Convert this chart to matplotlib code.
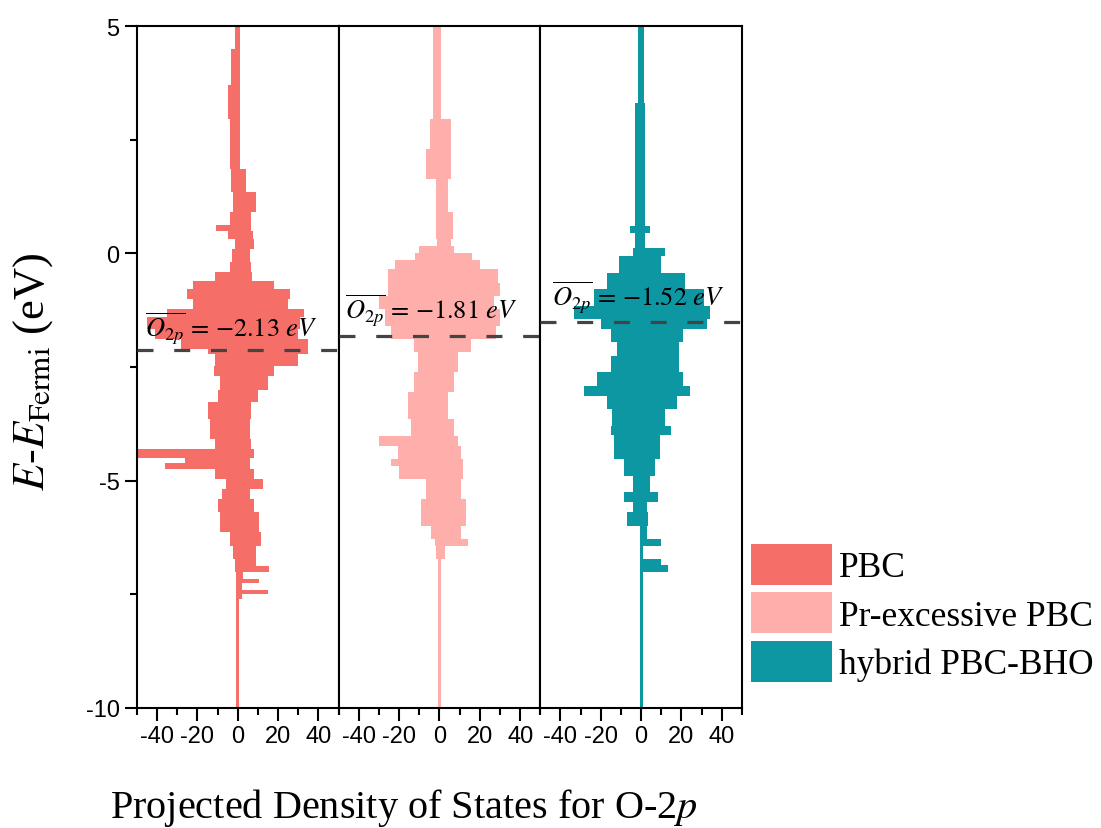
import numpy as np
import matplotlib
matplotlib.use('Agg')
import matplotlib.pyplot as plt
from matplotlib.patches import Patch
from matplotlib.ticker import MultipleLocator

plt.rcParams['font.family'] = 'Liberation Serif'
plt.rcParams['mathtext.fontset'] = 'stix'
plt.rcParams['axes.unicode_minus'] = False

# ---- data (energy in eV, PDOS in states) ----
# step profiles: value holds from e[i] down to e[i+1]
e_pbc = [5.0, 4.5, 3.7, 2.95, 1.85, 1.34, 0.9, 0.62, 0.5, 0.31, 0.09, -0.2, -0.42, -0.6,
         -0.79, -1.0, -1.23, -1.41, -1.67, -1.89, -2.11, -2.22, -2.48, -2.7, -3.0, -3.28,
         -3.65, -4.09, -4.31, -4.5, -4.62, -4.75, -4.97, -5.19, -5.41, -5.7, -6.14, -6.43,
         -6.73, -6.88, -7.02, -7.17, -7.25, -7.4, -7.5, -7.6, -10.0]
dn_pbc = [1.2, 3.3, 5.0, 4.0, 3.3, 2.5, 4.0, 10.7, 5.0, 1.6, 3.0, 4.0, 11.5, 22,
          25, 22, 35, 45, 41, 28, 15, 11.5, 12, 9, 10, 15,
          14, 11.5, 49.5, 26, 36, 11.5, 5.8, 8, 10, 8.6, 4, 2.5,
          1.3, 1.3, 0.8, 0.8, 0.8, 0.8, 0.8, 0.8, 0.8]
up_pbc = [1.0, 1.0, 1.0, 1.0, 4.0, 9.0, 6.6, 6.6, 7.4, 8, 6, 6.6, 7, 18,
          26, 25, 33, 31, 30, 35, 35, 30, 18, 15, 10, 6.6,
          6, 6.6, 8, 6, 6, 8, 12.4, 6, 8, 10.7, 11.5, 9,
          9, 15.7, 2.5, 10.7, 2, 15, 2, 0.8, 0.8]

e_pr = [5.0, 2.95, 2.3, 1.63, 0.9, 0.31, 0.17, 0.0, -0.15, -0.35, -0.65, -0.94, -1.23,
        -1.6, -1.89, -2.18, -2.62, -3.06, -3.65, -4.02, -4.24, -4.53, -4.68, -4.97,
        -5.41, -5.99, -6.29, -6.43, -6.73, -10.0]
dn_pr = [3.3, 4.5, 6.6, 1.6, 1.6, 1.0, 10, 12, 22, 25.6, 25.6, 30, 27,
         24, 12.4, 10.7, 12.4, 15.7, 14, 30, 20.6, 24, 20, 6.6,
         9, 4, 2, 1.5, 0.8, 0.8]
up_pr = [0.8, 5.8, 5.8, 4.0, 6.6, 5.8, 7.4, 16, 20, 29, 30, 27, 30,
         28, 15.7, 9, 7.4, 4, 7.4, 9, 10.7, 11.5, 11.5, 10.7,
         13, 10.7, 14, 2.5, 0.8, 0.8]

e_hyb = [5.0, 3.3, 0.6, 0.45, 0.11, -0.06, -0.43, -0.79, -1.16, -1.45, -1.67, -1.96,
         -2.26, -2.62, -2.92, -3.14, -3.43, -3.8, -4.0, -4.53, -4.9, -5.26, -5.48,
         -5.7, -5.99, -6.29, -6.43, -6.73, -6.85, -7.02, -10.0]
dn_hyb = [1.8, 3.0, 5.4, 3.0, 4.0, 11, 17, 23.6, 33.5, 20, 15, 12,
          15, 22, 28.5, 17, 14.5, 15, 13.7, 8.7, 3.8, 8.7, 4,
          7, 0.8, 0.8, 0.8, 0.8, 0.8, 0.8, 0.8]
up_hyb = [1.2, 2.0, 4.5, 2.0, 12, 10, 22, 31, 34, 32.5, 21, 19,
          19, 21, 24, 18, 12, 15, 9.4, 7, 4.5, 8.6, 2.8,
          3.5, 2.8, 10, 1.0, 10, 13.5, 0.8, 0.8]

names = ['PBC', 'Pr-excessive PBC', 'hybrid PBC-BHO']
centers = [-2.13, -1.81, -1.52]          # O-2p band centres
colors = ['#F66E68', '#FFAFAB', '#0C97A3']
profiles = [(e_pbc, dn_pbc, up_pbc), (e_pr, dn_pr, up_pr), (e_hyb, dn_hyb, up_hyb)]
label_y = [-1.82, -1.43, -1.14]
label_x = [-46, -47, -44]

fig, axes = plt.subplots(1, 3, figsize=(11.01, 8.29), dpi=100, sharey=True)
fig.subplots_adjust(left=0.1244, right=0.6739, top=0.9674, bottom=0.1448, wspace=0)

for i, ax in enumerate(axes):
    e, dn, up = (np.array(a, dtype=float) for a in profiles[i])
    ax.fill_betweenx(e, -dn, up, step='post', color=colors[i], lw=0, zorder=2)
    ax.axhline(centers[i], color='#444444', lw=2.3, dashes=(5, 6.5), zorder=3)
    ax.text(label_x[i], label_y[i],
            r'$\overline{O_{2p}}$ = ' + '\u2212%.2f ' % abs(centers[i]) + r'$eV$',
            fontsize=19, family='STIXGeneral', va='baseline', ha='left', zorder=4)
    ax.set_xlim(-50, 50)
    ax.set_ylim(-10, 5)
    ax.set_xticks([-40, -20, 0, 20, 40])
    ax.xaxis.set_minor_locator(MultipleLocator(10))
    ax.yaxis.set_major_locator(MultipleLocator(5))
    ax.yaxis.set_minor_locator(MultipleLocator(2.5))
    for s in ax.spines.values():
        s.set_linewidth(1.5)
    ax.tick_params(which='major', direction='out', length=9, width=1.5, labelsize=17)
    ax.tick_params(which='minor', direction='out', length=5, width=1.5)
    for lab in ax.get_xticklabels() + ax.get_yticklabels():
        lab.set_fontfamily('Liberation Sans')
    if i > 0:
        ax.tick_params(axis='y', which='both', left=False, labelleft=False)

fig.text(0.030, 0.551, r'$E$-$E_{\mathrm{Fermi}}$ (eV)', rotation=90,
         ha='center', va='center', fontsize=32)
fig.text(0.367, 0.013, r'Projected Density of States for O-2$p$',
         ha='center', va='baseline', fontsize=29)

handles = [Patch(facecolor=c, edgecolor='none') for c in colors]
fig.legend(handles, names, loc='upper left', bbox_to_anchor=(0.682, 0.343),
           frameon=False, fontsize=25.5, handlelength=2.29, handleheight=1.40,
           handletextpad=0.2, labelspacing=0.22, borderpad=0, borderaxespad=0)

fig.savefig('out.png', dpi=100)
